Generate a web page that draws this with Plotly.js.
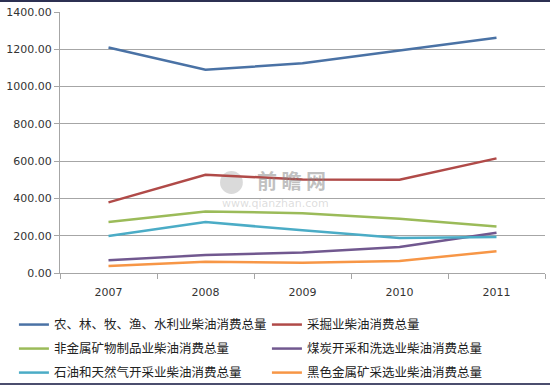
<!DOCTYPE html>
<html>
<head>
<meta charset="utf-8">
<script src="https://cdn.plot.ly/plotly-3.0.1.min.js"></script>
<style>
  html, body { margin: 0; padding: 0; background: #fff; }
  #wrap { position: relative; width: 550px; height: 387px; overflow: hidden; }
  #chart { width: 550px; height: 387px; }
  #btop { position: absolute; left: 0; top: 0; width: 550px; height: 2px; background: #2c3052; }
  #bbot { position: absolute; left: 0; top: 383px; width: 550px; height: 2px; background: #4b4d6e; }
</style>
</head>
<body>
<div id="wrap">
  <div id="chart"></div>
  <div id="btop"></div>
  <div id="bbot"></div>
</div>
<script>
const years = ['2007', '2008', '2009', '2010', '2011'];
const seriesNames = [
  '农、林、牧、渔、水利业柴油消费总量',
  '采掘业柴油消费总量',
  '非金属矿物制品业柴油消费总量',
  '煤炭开采和洗选业柴油消费总量',
  '石油和天然气开采业柴油消费总量',
  '黑色金属矿采选业柴油消费总量'
];
const agriculture = [1210, 1090, 1125, 1195, 1262];
const mining = [379, 527, 502, 500, 615];
const nonMetal = [273, 330, 321, 291, 250];
const coal = [69, 96, 110, 140, 216];
const oilGas = [198, 273, 229, 188, 193];
const ferrous = [37, 60, 55, 64, 117];
const seriesValues = [agriculture, mining, nonMetal, coal, oilGas, ferrous];
const colors = ['#4a72a5', '#b04a48', '#9bbb59', '#71588f', '#4bacc6', '#f79646'];
const legendIds = ['legend', 'legend', 'legend2', 'legend2', 'legend3', 'legend3'];

const traces = seriesValues.map((vals, i) => ({
  type: 'scatter',
  mode: 'lines',
  x: years,
  y: vals,
  name: seriesNames[i],
  legend: legendIds[i],
  line: { color: colors[i], width: 2.5 },
  hoverinfo: 'x+y+name'
}));

function legendRow(yPos) {
  return {
    orientation: 'h',
    x: -0.095,
    xanchor: 'left',
    y: yPos,
    yanchor: 'middle',
    entrywidth: 208,
    entrywidthmode: 'pixels',
    font: { family: 'Noto Sans CJK SC, sans-serif', size: 12.5, color: '#222222' },
    bgcolor: 'rgba(0,0,0,0)',
    traceorder: 'normal'
  };
}

const layout = {
  width: 550,
  height: 387,
  margin: { l: 60, r: 5, t: 12, b: 114, autoexpand: false },
  paper_bgcolor: '#ffffff',
  plot_bgcolor: '#ffffff',
  font: { family: 'DejaVu Sans, sans-serif', size: 11, color: '#333333' },
  showlegend: true,
  xaxis: {
    type: 'category',
    tickson: 'boundaries',
    ticks: 'outside',
    ticklen: 5,
    tickcolor: '#a6a6a6',
    showline: true,
    linecolor: '#a6a6a6',
    showgrid: false,
    zeroline: false,
    ticklabelstandoff: 9,
    tickfont: { family: 'DejaVu Sans, sans-serif', size: 11, color: '#333333' },
    range: [-0.5, 4.5],
    fixedrange: true
  },
  yaxis: {
    range: [0, 1400],
    dtick: 200,
    tickformat: '.2f',
    ticks: 'outside',
    ticklen: 5,
    tickcolor: '#a6a6a6',
    showline: true,
    linecolor: '#a6a6a6',
    showgrid: true,
    gridcolor: '#a6a6a6',
    gridwidth: 1,
    zeroline: false,
    tickfont: { family: 'DejaVu Sans, sans-serif', size: 11, color: '#333333' },
    fixedrange: true
  },
  legend: legendRow(-0.199),
  legend2: legendRow(-0.291),
  legend3: legendRow(-0.383),
  shapes: [
    {
      type: 'circle', xref: 'paper', yref: 'paper',
      x0: 0.330, x1: 0.377, y0: 0.303, y1: 0.391,
      fillcolor: 'rgba(150,150,150,0.35)', line: { width: 0 }, layer: 'below'
    }
  ],
  annotations: [
    {
      xref: 'paper', yref: 'paper',
      x: 0.478, y: 0.355,
      text: '<b>前 瞻 网</b>',
      showarrow: false,
      font: { family: 'Noto Sans CJK SC, sans-serif', size: 20, color: 'rgba(130,130,130,0.5)' }
    },
    {
      xref: 'paper', yref: 'paper',
      x: 0.445, y: 0.232,
      text: 'www.qianzhan.com',
      showarrow: false,
      font: { family: 'DejaVu Sans, sans-serif', size: 11, color: 'rgba(180,180,180,0.45)' }
    }
  ]
};

Plotly.newPlot('chart', traces, layout, { displayModeBar: false, staticPlot: true });
</script>
</body>
</html>
